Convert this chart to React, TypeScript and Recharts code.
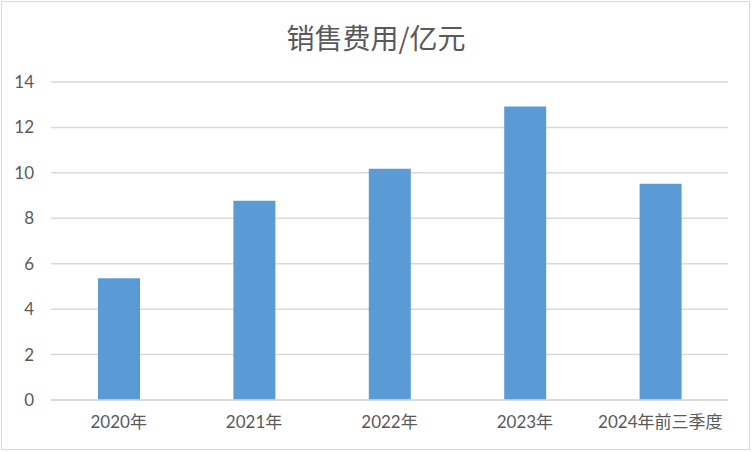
import { Bar, BarChart, CartesianGrid, XAxis, YAxis } from 'recharts'

const categories = ['2020年', '2021年', '2022年', '2023年', '2024年前三季度']
const salesExpense = [5.36, 8.77, 10.18, 12.92, 9.52]
const yTicks = [0, 2, 4, 6, 8, 10, 12, 14]

const data = categories.map((name, i) => ({ name, value: salesExpense[i] }))

const textColor = '#595959'
const gridColor = '#d9d9d9'
const fontStack = "Lato, 'Noto Sans CJK SC', sans-serif"

export default function App() {
  return (
    <div
      style={{
        position: 'absolute',
        left: 0,
        top: 0,
        width: 752,
        height: 452,
        background: '#fff',
        fontFamily: fontStack,
      }}
    >
      <div
        style={{
          position: 'absolute',
          left: 1,
          top: 1,
          width: 747,
          height: 447,
          border: `1px solid ${gridColor}`,
        }}
      />
      <div
        style={{
          position: 'absolute',
          left: 0,
          top: 19,
          width: 752,
          textAlign: 'center',
          fontSize: 28,
          color: textColor,
          fontFamily: "'Noto Sans CJK SC', sans-serif",
          lineHeight: '36px',
        }}
      >
        销售费用/亿元
      </div>
      <div style={{ position: 'absolute', left: 0, top: 0 }}>
        <BarChart
          width={752}
          height={452}
          data={data}
          margin={{ top: 82, right: 24, left: 10, bottom: 22 }}
        >
          <CartesianGrid
            vertical={false}
            stroke={gridColor}
            strokeWidth={1.5}
          />
          <XAxis
            dataKey='name'
            height={30}
            tickLine={false}
            axisLine={{ stroke: gridColor, strokeWidth: 1.5 }}
            tickMargin={10}
            tick={{ fill: textColor, fontSize: 17, fontFamily: fontStack }}
            interval={0}
          />
          <YAxis
            width={41}
            domain={[0, 14]}
            ticks={yTicks}
            tickLine={false}
            axisLine={false}
            tickMargin={11}
            tick={{ fill: textColor, fontSize: 17, fontFamily: fontStack }}
          />
          <Bar
            dataKey='value'
            fill='#5b9bd5'
            barSize={42}
            isAnimationActive={false}
          />
        </BarChart>
      </div>
    </div>
  )
}
